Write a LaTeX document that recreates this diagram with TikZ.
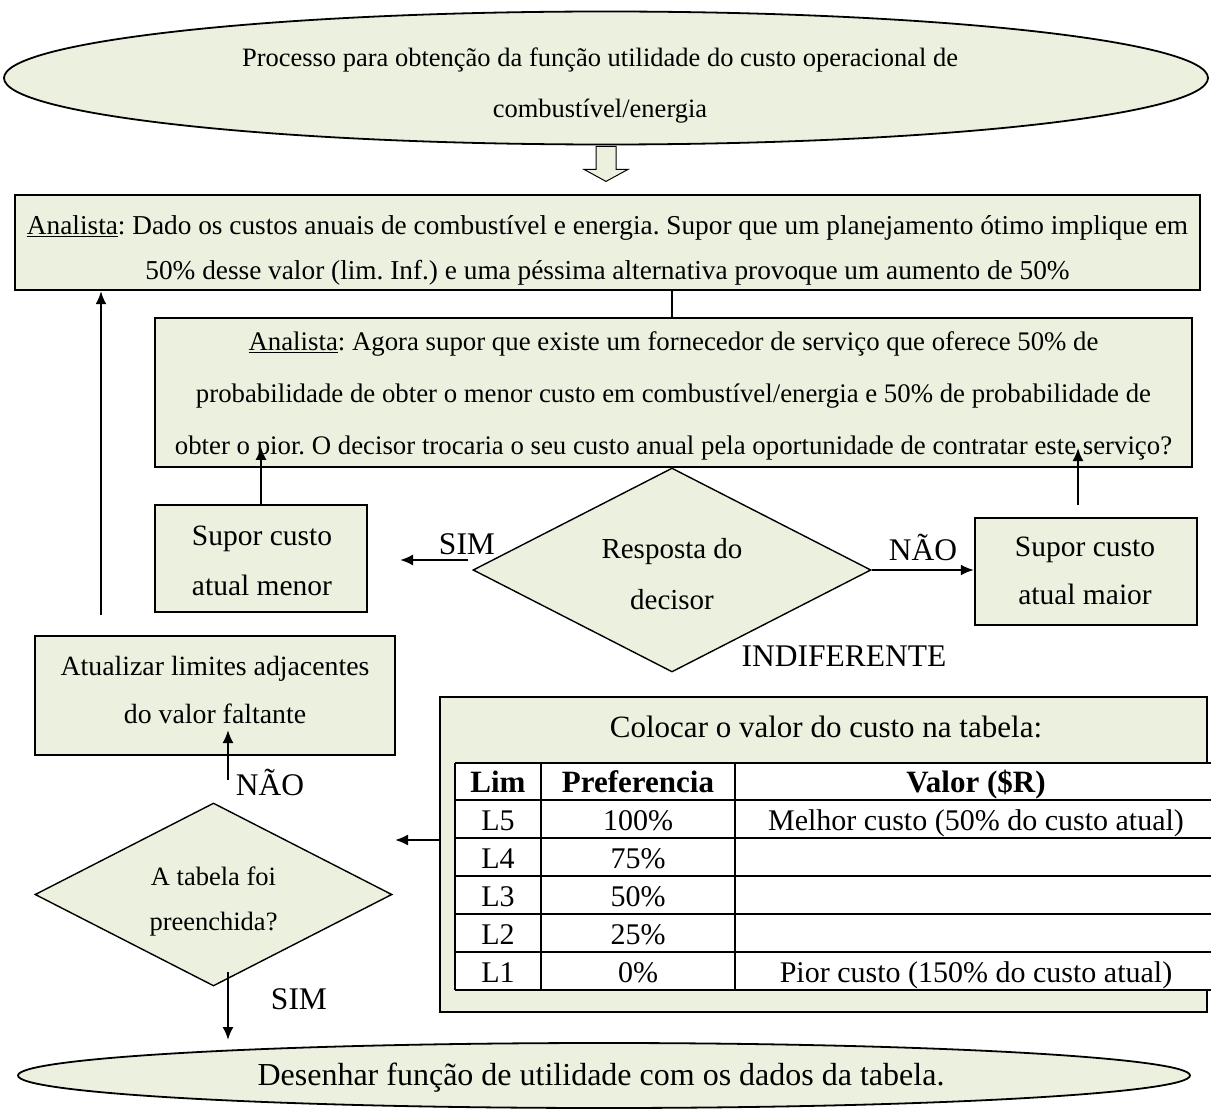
\documentclass[tikz,border=0pt]{standalone}
\usepackage{fontspec}
\setmainfont{Liberation Serif}
\usetikzlibrary{shapes.geometric,arrows.meta,calc}
\definecolor{boxfill}{HTML}{EBF1DE}
\newcommand\fs[2]{\fontsize{#1}{#2}\selectfont}
\frenchspacing
\begin{document}
\begin{tikzpicture}[x=1pt,y=-1pt,
  box/.style={draw=black,line width=2.4pt,fill=boxfill,inner sep=0pt},
  ell/.style={ellipse,draw=black,line width=1.8pt,fill=boxfill,inner sep=0pt},
  dia/.style={diamond,aspect=2,draw=black,line width=1.4pt,fill=boxfill,inner sep=0pt},
  txt/.style={inner sep=0pt,align=center},
  arr/.style={line width=2pt,-{Latex[length=13pt,width=11pt]}},
  lbl/.style={inner sep=0pt,font=\fs{31.5}{34}},
  cell/.style={inner sep=0pt,font=\fs{30}{32}},
  hcell/.style={inner sep=0pt,font=\fs{31}{32}\bfseries},
  conn/.style={line width=2pt},
]
\useasboundingbox (0,0) rectangle (1211,1110);

% top ellipse
\node[ell,minimum width=1204pt,minimum height=133pt] (top) at (606,78) {};
\node[txt,font=\fs{26.5}{51}] (topt) at (600,85.5)
  {Processo para obtenção da função utilidade do custo operacional de\\combustível/energia};

% block arrow
\draw[fill=boxfill,line width=1pt] ($(top.south)+(-10,1)$) coordinate (ba1) -- ++(20,0) -- ++(0,23) -- ++(12,0)
  -- ++(-22,12) -- ++(-22,-12) -- ++(12,0) -- cycle;

% box 1
\node[box,minimum width=1185pt,minimum height=95pt] (b1) at (607.5,242.5) {};
\node[txt,font=\fs{27.3}{45}] (b1t) at (607.5,250.5)
  {\underline{Analista}: Dado os custos anuais de combustível e energia. Supor que um planejamento ótimo implique em\\
   50\% desse valor (lim. Inf.) e uma péssima alternativa provoque um aumento de 50\%};

% diamond 1
\node[dia,minimum width=398pt,minimum height=204pt] (d1) at (672,570) {};
\node[txt,font=\fs{29}{51}] (d1t) at (672,574) {Resposta do\\decisor};

% box 2
\node[box,minimum width=1037pt,minimum height=149pt] (b2) at (673.5,392.5) {};
\node[txt,font=\fs{26.8}{52}] (b2t) at (673.5,395.5)
  {\underline{Analista}: Agora supor que existe um fornecedor de serviço que oferece 50\% de\\
   probabilidade de obter o menor custo em combustível/energia e 50\% de probabilidade de\\
   obter o pior. O decisor trocaria o seu custo anual pela oportunidade de contratar este serviço?};

\draw[conn] (b1.south -| d1.north) -- (b2.north -| d1.north);

% supor boxes
\node[box,minimum width=212pt,minimum height=107pt] (sm) at (261,558.5) {};
\node[txt,font=\fs{29.5}{50}] (smt) at (262,560.5) {Supor custo\\atual menor};
\node[box,minimum width=222pt,minimum height=107pt] (sM) at (1086,571.5) {};
\node[txt,font=\fs{29.5}{48}] (sMt) at (1085,570.5) {Supor custo\\atual maior};

\draw[arr] (sm.north) -- ++(0,-57);
\coordinate (sMa) at (1078,505);
\draw[arr] (sMa) -- ++(0,-57);

\coordinate (simA) at (468,560);
\draw[arr] (simA) -- (400,560);
\node[lbl] (simlbl) at (467,544) {SIM};
\draw[arr] (d1.east) -- (d1.east -| sM.west);
\node[lbl] (naolbl) at (923,547) {NÃO};
\node[lbl] (indlbl) at (844,656) {INDIFERENTE};

% left long arrow
\coordinate (lstart) at (101,615);
\draw[arr] (lstart) -- (lstart |- b1.south);

% atualizar box
\node[box,minimum width=360pt,minimum height=119pt] (at) at (215,695.5) {};
\node[txt,font=\fs{27.8}{48}] (att) at (215,689.5) {Atualizar limites adjacentes\\do valor faltante};

% diamond 2
\node[dia,minimum width=357pt,minimum height=183pt] (d2) at (213.5,894.5) {};
\node[txt,font=\fs{26.5}{45}] (d2t) at (213.5,901.5) {A tabela foi\\preenchida?};

\coordinate (naoA) at (228,780);
\draw[arr] (naoA) -- (naoA |- 0,730);
\node[lbl] (naolbl2) at (270,782) {NÃO};

\coordinate (simB) at (228,972);
\draw[arr] (simB) -- (simB |- 0,1040);
\node[lbl] (simlbl2) at (299,999) {SIM};

% table frame
\node[box,minimum width=767pt,minimum height=315pt] (tbl) at (823.5,854.5) {};
\node[inner sep=0pt,font=\fs{31}{33}] (tbltitle) at (826,727) {Colocar o valor do custo na tabela:};
\draw[arr] (tbl.west |- 0,840) -- (395,840);

% table grid
\fill[white] (455,763) rectangle (1215,990);
\foreach \yy in {763,800,838,876,914,952,990}
  \draw[line width=1.4pt] (455,\yy) -- (1215,\yy);
\foreach \xx in {455,541,735}
  \draw[line width=1.4pt] (\xx,763) -- (\xx,990);

\node[hcell,anchor=base] (h1) at (498,792) {Lim};
\node[hcell,anchor=base] (h2) at (638,792) {Preferencia};
\node[hcell,anchor=base] (h3) at (976,792) {Valor (\$R)};

\node[cell,anchor=base] (r1a) at (498,830) {L5};
\node[cell,anchor=base] (r1b) at (638,830) {100\%};
\node[cell,anchor=base] (r1c) at (976,830) {Melhor custo (50\% do custo atual)};
\node[cell,anchor=base] (r2a) at (498,868) {L4};
\node[cell,anchor=base] (r2b) at (638,868) {75\%};
\node[cell,anchor=base] (r3a) at (498,906) {L3};
\node[cell,anchor=base] (r3b) at (638,906) {50\%};
\node[cell,anchor=base] (r4a) at (498,944) {L2};
\node[cell,anchor=base] (r4b) at (638,944) {25\%};
\node[cell,anchor=base] (r5a) at (498,982) {L1};
\node[cell,anchor=base] (r5b) at (638,982) {0\%};
\node[cell,anchor=base] (r5c) at (976,982) {Pior custo (150\% do custo atual)};

% bottom ellipse
\node[ell,minimum width=1172pt,minimum height=65pt] (bot) at (604,1075.5) {};
\node[txt,font=\fs{32}{34}] (bott) at (601,1077.5) {Desenhar função de utilidade com os dados da tabela.};
\end{tikzpicture}
\end{document}
